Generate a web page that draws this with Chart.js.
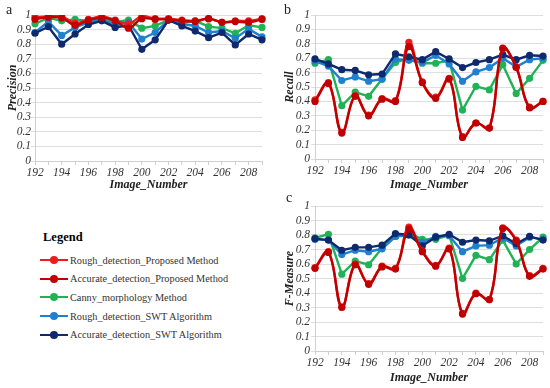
<!DOCTYPE html>
<html>
<head>
<meta charset="utf-8">
<script src="https://cdn.jsdelivr.net/npm/chart.js@4.4.0/dist/chart.umd.min.js"></script>
<style>
  body { margin: 0; background: #fff; }
  #wrap { position: relative; width: 550px; height: 388px; overflow: hidden; font-family: "Liberation Serif", serif; }
  canvas { position: absolute; }
  .tag { position: absolute; font-size: 14px; color: #222; }
  #legend { position: absolute; left: 40px; top: 226px; }
  #legend h4 { margin: 0 0 3px 3px; font-size: 12.5px; font-weight: bold; height: 22px; line-height: 22px; }
  .item { height: 18.6px; display: flex; align-items: center; font-size: 10.3px; color: #333; }
  .swatch { position: relative; width: 28px; height: 8px; margin-right: 2px; }
  .swatch i { position: absolute; left: 0; right: 0; top: 3px; height: 2px; }
  .swatch b { position: absolute; left: 10px; top: 0; width: 8px; height: 8px; border-radius: 50%; }
</style>
</head>
<body>
<div id="wrap">
  <canvas id="chartA" width="275" height="195" style="left:0;top:0"></canvas>
  <canvas id="chartB" width="275" height="195" style="left:275px;top:0"></canvas>
  <canvas id="chartC" width="275" height="198" style="left:275px;top:190px"></canvas>
  <div class="tag" style="left:6px;top:2px">a</div>
  <div class="tag" style="left:284px;top:2px">b</div>
  <div class="tag" style="left:286px;top:190px">c</div>
  <div id="legend"><h4>Legend</h4></div>
</div>
<script>
// x categories
const imageNumbers = ['192', '193', '194', '195', '196', '197', '198', '199', '200',
                      '201', '202', '203', '204', '205', '206', '207', '208', '209'];

const seriesNames = ['Rough_detection_Proposed Method', 'Accurate_detection_Proposed Method',
                     'Canny_morphology Method', 'Rough_detection_SWT Algorithm', 'Accurate_detection_SWT Algorithm'];
const seriesColors = ['#ee1c1c', '#c00000', '#1fb356', '#1f80d0', '#0f2a6c'];

// Precision (a)
const precisionRough = [0.985, 0.99, 0.99, 0.945, 0.97, 0.99, 0.965, 0.94, 0.99, 0.975, 0.975, 0.965, 0.96, 0.975, 0.95, 0.96, 0.96, 0.975];
const precisionAccurate = [0.97, 0.985, 0.98, 0.93, 0.965, 0.98, 0.96, 0.91, 0.975, 0.97, 0.97, 0.96, 0.955, 0.975, 0.95, 0.955, 0.95, 0.97];
const precisionCanny = [0.94, 0.98, 0.96, 0.97, 0.96, 0.97, 0.95, 0.965, 0.91, 0.925, 0.965, 0.95, 0.96, 0.92, 0.91, 0.875, 0.93, 0.915];
const precisionSwtRough = [0.88, 0.955, 0.86, 0.915, 0.95, 0.97, 0.93, 0.95, 0.835, 0.88, 0.965, 0.94, 0.925, 0.88, 0.89, 0.84, 0.905, 0.85];
const precisionSwtAccurate = [0.875, 0.92, 0.80, 0.87, 0.935, 0.96, 0.915, 0.93, 0.765, 0.83, 0.965, 0.925, 0.89, 0.845, 0.88, 0.795, 0.87, 0.83];

// Recall (b)
const recallRough = [0.41, 0.53, 0.185, 0.44, 0.305, 0.42, 0.405, 0.81, 0.535, 0.43, 0.56, 0.155, 0.25, 0.215, 0.765, 0.64, 0.36, 0.40];
const recallAccurate = [0.40, 0.525, 0.18, 0.435, 0.30, 0.415, 0.40, 0.78, 0.53, 0.42, 0.555, 0.15, 0.25, 0.215, 0.77, 0.635, 0.355, 0.40];
const recallCanny = [0.665, 0.69, 0.37, 0.465, 0.435, 0.555, 0.67, 0.70, 0.665, 0.665, 0.685, 0.34, 0.505, 0.48, 0.655, 0.455, 0.56, 0.685];
const recallSwtRough = [0.68, 0.645, 0.545, 0.57, 0.54, 0.555, 0.695, 0.685, 0.67, 0.72, 0.66, 0.54, 0.605, 0.635, 0.70, 0.64, 0.69, 0.70];
const recallSwtAccurate = [0.695, 0.66, 0.62, 0.615, 0.585, 0.59, 0.73, 0.71, 0.69, 0.745, 0.695, 0.635, 0.67, 0.69, 0.725, 0.69, 0.72, 0.715];

// F-Measure (c)
const fRough = [0.575, 0.685, 0.305, 0.60, 0.465, 0.585, 0.57, 0.855, 0.69, 0.59, 0.71, 0.26, 0.40, 0.355, 0.85, 0.765, 0.52, 0.57];
const fAccurate = [0.57, 0.68, 0.30, 0.595, 0.46, 0.58, 0.565, 0.84, 0.685, 0.585, 0.705, 0.255, 0.395, 0.355, 0.845, 0.76, 0.515, 0.565];
const fCanny = [0.78, 0.805, 0.53, 0.62, 0.595, 0.71, 0.79, 0.815, 0.77, 0.77, 0.80, 0.50, 0.66, 0.63, 0.765, 0.60, 0.70, 0.785];
const fSwtRough = [0.77, 0.765, 0.665, 0.695, 0.685, 0.705, 0.79, 0.80, 0.75, 0.79, 0.795, 0.685, 0.725, 0.73, 0.78, 0.725, 0.785, 0.77];
const fSwtAccurate = [0.775, 0.765, 0.695, 0.715, 0.715, 0.73, 0.81, 0.80, 0.725, 0.785, 0.805, 0.75, 0.765, 0.76, 0.795, 0.74, 0.79, 0.765];

// lower order is drawn on top
const drawOrder = [2, 1, 5, 4, 3];

Chart.defaults.font.family = "'Liberation Serif', serif";

function buildDatasets(lists) {
    return lists.map((values, i) => ({
        label: seriesNames[i],
        data: values,
        borderColor: seriesColors[i],
        backgroundColor: seriesColors[i],
        borderWidth: 2.4,
        pointRadius: 3.6,
        pointBorderWidth: 0,
        tension: i < 2 ? 0.4 : 0,
        order: drawOrder[i]
    }));
}

const tickFont = { family: "'Liberation Serif', serif", style: 'italic', weight: 'normal', size: 11.5 };
const titleFont = { family: "'Liberation Serif', serif", style: 'italic', weight: 'bold', size: 12 };

function makeChart(id, lists, yTitle, box) {
    new Chart(document.getElementById(id), {
        type: 'line',
        data: { labels: imageNumbers, datasets: buildDatasets(lists) },
        options: {
            responsive: false,
            animation: false,
            events: [],
            layout: { padding: { left: 0, right: box.right, top: box.top, bottom: 0 } },
            plugins: { legend: { display: false }, tooltip: { enabled: false } },
            scales: {
                x: {
                    offset: false,
                    grid: { drawOnChartArea: false, drawTicks: true, tickLength: 4, color: '#cfcfcf' },
                    border: { color: '#cfcfcf' },
                    ticks: {
                        autoSkip: false, maxRotation: 0, padding: 1,
                        color: '#333', font: tickFont,
                        callback: (v, i) => i % 2 === 0 ? imageNumbers[i] : ''
                    },
                    title: { display: true, text: 'Image_Number', color: '#222', font: titleFont, padding: { top: 0, bottom: 3 } },
                    afterFit: s => { s.height = box.xHeight; }
                },
                y: {
                    min: 0, max: 1,
                    grid: { color: '#dedede', tickLength: 4 },
                    border: { color: '#cfcfcf' },
                    ticks: {
                        stepSize: 0.1, autoSkip: false, padding: box.tickPad, color: '#333', font: tickFont,
                        callback: v => String(Math.round(v * 10) / 10)
                    },
                    title: { display: true, text: yTitle, color: '#222', font: titleFont, padding: box.titlePad },
                    afterFit: s => { s.width = box.yWidth; }
                }
            }
        }
    });
}

makeChart('chartA', [precisionRough, precisionAccurate, precisionCanny, precisionSwtRough, precisionSwtAccurate],
    'Precision', { right: 13, top: 15, xHeight: 34, yWidth: 35, tickPad: 0, titlePad: 6 });
makeChart('chartB', [recallRough, recallAccurate, recallCanny, recallSwtRough, recallSwtAccurate],
    'Recall', { right: 7, top: 15, xHeight: 36, yWidth: 40, tickPad: 1, titlePad: 8 });
makeChart('chartC', [fRough, fAccurate, fCanny, fSwtRough, fSwtAccurate],
    'F-Measure', { right: 7, top: 16, xHeight: 37, yWidth: 40, tickPad: 1, titlePad: 8 });

// legend block
const legend = document.getElementById('legend');
seriesNames.forEach((name, i) => {
    const row = document.createElement('div');
    row.className = 'item';
    row.innerHTML = '<span class="swatch"><i style="background:' + seriesColors[i] + '"></i><b style="background:' +
        seriesColors[i] + '"></b></span>' + name;
    legend.appendChild(row);
});
</script>
</body>
</html>
